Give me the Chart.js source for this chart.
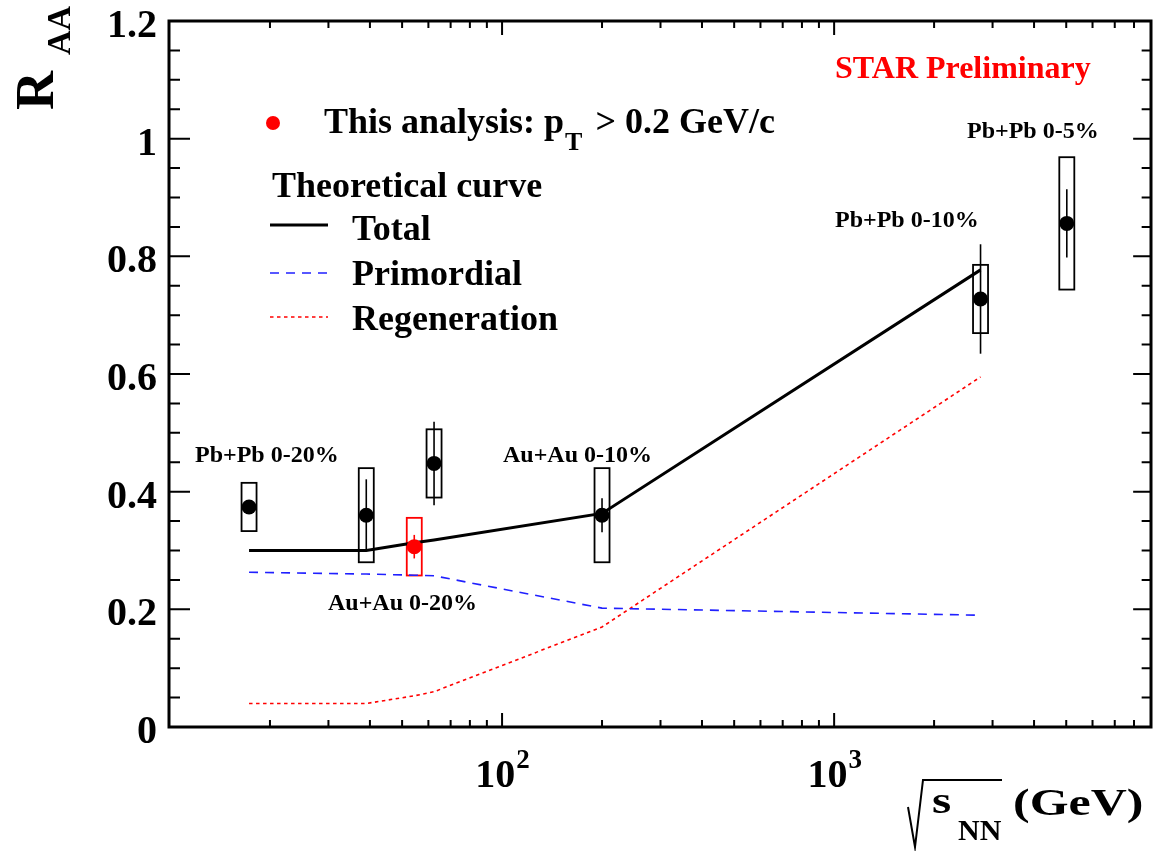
<!DOCTYPE html>
<html><head><meta charset="utf-8">
<script src="https://cdn.jsdelivr.net/npm/chart.js@4.4.0/dist/chart.umd.min.js"></script>
<style>html,body{margin:0;padding:0;background:#fff}canvas{display:block}</style>
</head><body>
<canvas id="c" width="1155" height="851"></canvas>
<script>
// ---- data ----
const energies   = [17.3, 39, 62.4, 200, 2760, 5020];
const raaValues  = [0.374, 0.360, 0.448, 0.360, 0.7275, 0.856];
const statErrors = [0.010, 0.061, 0.071, 0.029, 0.093, 0.058];
const sysErrors  = [0.041, 0.080, 0.058, 0.080, 0.058, 0.1125];

const thisEnergy = [54.4];
const thisRaa    = [0.3065];
const thisStat   = [0.020];
const thisSys    = [0.049];

const theoryEnergies = [17.3, 39, 54.4, 62.4, 200, 2760];
const totalCurve     = [0.300, 0.300, 0.313, 0.318, 0.363, 0.777];
const primordial     = [0.263, 0.260, 0.258, 0.257, 0.202, 0.190];
const regeneration   = [0.040, 0.040, 0.053, 0.060, 0.170, 0.595];

const yMajorTicks = [0, 0.2, 0.4, 0.6, 0.8, 1, 1.2];
const yTickLabels = ['0', '0.2', '0.4', '0.6', '0.8', '1', '1.2'];
const xMajorTicks = [100, 1000];
const xTickExponents = ['2', '3'];

const labels = [
  {text: 'Pb+Pb 0-20%', x: 195, y: 462},
  {text: 'Au+Au 0-20%', x: 328, y: 610},
  {text: 'Au+Au 0-10%', x: 503, y: 462},
  {text: 'Pb+Pb 0-10%', x: 835, y: 227},
  {text: 'Pb+Pb 0-5%',  x: 967, y: 138}
];

const pts = (xs, ys) => xs.map((x, i) => ({x: x, y: ys[i]}));

const SERIF = "'Liberation Serif','Times New Roman',serif";
const BLUE = '#2020ff';
const RED = '#ff0000';

function drawErrors(ctx, xScale, yScale, xsE, ys, st, sy, color) {
  ctx.save();
  ctx.strokeStyle = color;
  xsE.forEach((e, i) => {
    const px = xScale.getPixelForValue(e);
    const yT = yScale.getPixelForValue(ys[i] + sy[i]);
    const yB = yScale.getPixelForValue(ys[i] - sy[i]);
    ctx.lineWidth = 1.8;
    ctx.strokeRect(px - 7.5, yT, 15, yB - yT);
    ctx.lineWidth = 1.6;
    ctx.beginPath();
    ctx.moveTo(px, yScale.getPixelForValue(ys[i] + st[i]));
    ctx.lineTo(px, yScale.getPixelForValue(ys[i] - st[i]));
    ctx.stroke();
  });
  ctx.restore();
}

const rootPlugin = {
  id: 'rootStyle',
  beforeDatasetsDraw(chart) {
    const ctx = chart.ctx, xs = chart.scales.x, ys = chart.scales.y;
    drawErrors(ctx, xs, ys, energies, raaValues, statErrors, sysErrors, '#000');
    drawErrors(ctx, xs, ys, thisEnergy, thisRaa, thisStat, thisSys, RED);
  },
  afterDraw(chart) {
    const ctx = chart.ctx, xs = chart.scales.x, ys = chart.scales.y;
    const a = chart.chartArea;
    const L = a.left - 1;
    ctx.save();
    // frame
    ctx.strokeStyle = '#000';
    ctx.lineWidth = 3;
    ctx.strokeRect(L, a.top, a.right - L, a.bottom - a.top);
    // y ticks
    ctx.lineWidth = 2;
    ctx.beginPath();
    for (let k = 1; k < 24; k++) {
      const v = k * 0.05;
      const py = ys.getPixelForValue(v);
      const len = (k % 4 === 0) ? 21 : 11;
      ctx.moveTo(L, py); ctx.lineTo(L + len, py);
      ctx.moveTo(a.right, py); ctx.lineTo(a.right - len * 0.85, py);
    }
    // x ticks (log)
    for (let dec = 10; dec <= 1000; dec *= 10) {
      for (let m = 1; m <= 9; m++) {
        const v = dec * m;
        if (v <= 10 || v >= 9000) continue;
        const px = xs.getPixelForValue(v);
        const len = (m === 1) ? 14 : 7;
        ctx.moveTo(px, a.bottom); ctx.lineTo(px, a.bottom - len);
        ctx.moveTo(px, a.top); ctx.lineTo(px, a.top + len);
      }
    }
    ctx.stroke();

    // y tick labels
    ctx.fillStyle = '#000';
    ctx.font = 'bold 40px ' + SERIF;
    ctx.textAlign = 'right';
    ctx.textBaseline = 'alphabetic';
    yMajorTicks.forEach((v, i) => {
      ctx.fillText(yTickLabels[i], 157, ys.getPixelForValue(v) + 16);
    });
    // x tick labels: 10^n
    xMajorTicks.forEach((v, i) => {
      const px = xs.getPixelForValue(v);
      ctx.font = 'bold 40px ' + SERIF;
      const w1 = ctx.measureText('10').width;
      ctx.font = 'bold 27px ' + SERIF;
      const w2 = ctx.measureText(xTickExponents[i]).width;
      const x0 = px - (w1 + w2) / 2;
      ctx.textAlign = 'left';
      ctx.font = 'bold 40px ' + SERIF;
      ctx.fillText('10', x0, 787);
      ctx.font = 'bold 27px ' + SERIF;
      ctx.fillText(xTickExponents[i], x0 + w1 + 1, 768);
    });

    // y title R_AA
    ctx.save();
    ctx.translate(53, 110);
    ctx.rotate(-Math.PI / 2);
    ctx.textAlign = 'left';
    ctx.font = 'bold 54px ' + SERIF;
    ctx.fillText('R', 0, 0);
    ctx.font = 'bold 34px ' + SERIF;
    ctx.fillText('AA', 55, 17);
    ctx.restore();

    // x title  sqrt(s_NN) (GeV)
    ctx.lineWidth = 2;
    ctx.beginPath();
    ctx.moveTo(908, 807); ctx.lineTo(915, 847); ctx.lineTo(923, 780); ctx.lineTo(1002, 780);
    ctx.stroke();
    ctx.textAlign = 'left';
    ctx.save();
    ctx.translate(932, 813); ctx.scale(1.3, 1);
    ctx.font = 'bold 38px ' + SERIF;
    ctx.fillText('s', 0, 0);
    ctx.restore();
    ctx.font = 'bold 30px ' + SERIF;
    ctx.fillText('NN', 958, 840);
    ctx.save();
    ctx.translate(1013, 815); ctx.scale(1.35, 1);
    ctx.font = 'bold 37px ' + SERIF;
    ctx.fillText('(GeV)', 0, 0);
    ctx.restore();

    // STAR Preliminary
    ctx.fillStyle = RED;
    ctx.font = 'bold 32px ' + SERIF;
    ctx.fillText('STAR Preliminary', 835, 78);

    // annotation labels
    ctx.fillStyle = '#000';
    ctx.font = 'bold 24px ' + SERIF;
    labels.forEach(l => ctx.fillText(l.text, l.x, l.y));

    // legend
    ctx.fillStyle = RED;
    ctx.beginPath(); ctx.arc(273, 123, 7, 0, Math.PI * 2); ctx.fill();
    ctx.fillStyle = '#000';
    ctx.font = 'bold 36px ' + SERIF;
    let tx = 324;
    const t1 = 'This analysis: p';
    ctx.fillText(t1, tx, 133);
    tx += ctx.measureText(t1).width;
    ctx.font = 'bold 26px ' + SERIF;
    ctx.fillText('T', tx + 1, 150);
    tx += ctx.measureText('T').width + 5;
    ctx.font = 'bold 36px ' + SERIF;
    ctx.fillText(' > 0.2 GeV/c', tx, 133);

    ctx.fillText('Theoretical curve', 272, 197);
    ctx.fillText('Total', 352, 240);
    ctx.fillText('Primordial', 352, 285);
    ctx.fillText('Regeneration', 352, 330);

    ctx.strokeStyle = '#000'; ctx.lineWidth = 3;
    ctx.beginPath(); ctx.moveTo(270, 225); ctx.lineTo(328, 225); ctx.stroke();
    ctx.strokeStyle = BLUE; ctx.lineWidth = 1.6; ctx.setLineDash([9, 7]);
    ctx.beginPath(); ctx.moveTo(270, 273); ctx.lineTo(328, 273); ctx.stroke();
    ctx.strokeStyle = RED; ctx.setLineDash([3.5, 3.5]);
    ctx.beginPath(); ctx.moveTo(270, 317); ctx.lineTo(328, 317); ctx.stroke();
    ctx.setLineDash([]);
    ctx.restore();
  }
};

new Chart(document.getElementById('c'), {
  type: 'scatter',
  data: {
    datasets: [
      {label: 'Data', data: pts(energies, raaValues), backgroundColor: '#000', borderWidth: 0,
       pointRadius: 7.5, pointHoverRadius: 7.5, showLine: false, order: 0},
      {label: 'This analysis', data: pts(thisEnergy, thisRaa), backgroundColor: RED, borderWidth: 0,
       pointRadius: 7.5, pointHoverRadius: 7.5, showLine: false, order: 1},
      {label: 'Total', data: pts(theoryEnergies, totalCurve), showLine: true, borderColor: '#000',
       borderWidth: 3, pointRadius: 0, fill: false, order: 2},
      {label: 'Primordial', data: pts(theoryEnergies, primordial), showLine: true, borderColor: BLUE,
       borderWidth: 1.6, borderDash: [9, 7], pointRadius: 0, fill: false, order: 3},
      {label: 'Regeneration', data: pts(theoryEnergies, regeneration), showLine: true, borderColor: RED,
       borderWidth: 1.6, borderDash: [3.5, 3.5], pointRadius: 0, fill: false, order: 4}
    ]
  },
  options: {
    responsive: false,
    animation: false,
    layout: {autoPadding: false, padding: {left: 170, top: 21, right: 4, bottom: 124}},
    scales: {
      x: {type: 'logarithmic', min: 10, max: 9000, display: false},
      y: {type: 'linear', min: 0, max: 1.2, display: false}
    },
    plugins: {legend: {display: false}, tooltip: {enabled: false}}
  },
  plugins: [rootPlugin]
});
</script>
</body></html>
